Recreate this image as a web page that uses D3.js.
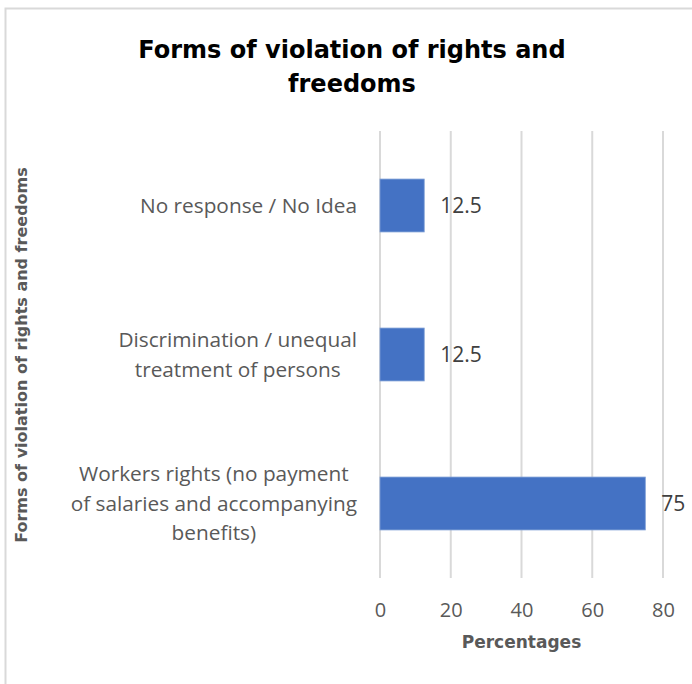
<!DOCTYPE html>
<html>
<head>
<meta charset="utf-8">
<script src="https://cdn.jsdelivr.net/npm/d3@7"></script>
<style>
  html, body { margin: 0; padding: 0; background: #fff; }
  svg { display: block; }
</style>
</head>
<body>
<svg id="chart" width="692" height="684"></svg>
<script>
// Categories, listed bottom to top as they appear on the axis
const categories = [
  ["Workers rights (no payment", "of salaries and accompanying", "benefits)"],
  ["Discrimination / unequal", "treatment of persons"],
  ["No response / No Idea"]
];
const values = [75, 12.5, 12.5];
const xTicks = [0, 20, 40, 60, 80];
const titleLines = ["Forms of violation of rights and", "freedoms"];
const xTitle = "Percentages";
const yTitle = "Forms of violation of rights and freedoms";

const svg = d3.select("#chart");
const W = 692, H = 684;
const margin = { top: 131, right: 29, bottom: 106, left: 380 };
const plotW = W - margin.left - margin.right;
const plotH = H - margin.top - margin.bottom;

const labelFont = "'Open Sans', sans-serif";
const titleFont = "'DejaVu Sans', sans-serif";
const gray = "#595959";

// chart frame
svg.append("rect")
  .attr("x", 5.5).attr("y", 8.5)
  .attr("width", W + 10).attr("height", H + 10)
  .attr("fill", "none").attr("stroke", "#d9d9d9").attr("stroke-width", 2);

const g = svg.append("g").attr("transform", `translate(${margin.left},${margin.top})`);

const x = d3.scaleLinear().domain([0, 80]).range([0, plotW]);
const keys = categories.map((d, i) => i);
const y = d3.scaleBand().domain(keys.slice().reverse()).range([0, plotH])
  .paddingInner(0.645).paddingOuter(0.3225);

// vertical gridlines
g.append("g")
  .selectAll("line").data(xTicks).join("line")
  .attr("x1", d => x(d)).attr("x2", d => x(d))
  .attr("y1", 0).attr("y2", plotH)
  .attr("stroke", "#d9d9d9").attr("stroke-width", 2);

// x axis tick labels
const xAxis = d3.axisBottom(x).tickValues(xTicks).tickSize(0).tickPadding(0);
const xg = g.append("g").attr("transform", `translate(0,${plotH})`).call(xAxis);
xg.select(".domain").remove();
xg.selectAll("text")
  .attr("y", 39).attr("dy", 0)
  .attr("font-family", labelFont).attr("font-size", 20).attr("fill", gray);

// bars
g.selectAll("rect.bar").data(keys).join("rect")
  .attr("class", "bar")
  .attr("x", x(0))
  .attr("y", i => y(i))
  .attr("width", i => x(values[i]) - x(0))
  .attr("height", y.bandwidth())
  .attr("fill", "#4472C4")
  .attr("stroke", "#7f9fd6").attr("stroke-width", 0.8);

// value labels
g.selectAll("text.val").data(keys).join("text")
  .attr("class", "val")
  .attr("x", i => x(values[i]) + 16)
  .attr("y", i => y(i) + y.bandwidth() / 2)
  .attr("dy", "0.35em")
  .attr("font-family", labelFont).attr("font-size", 21).attr("fill", "#404040")
  .text(i => values[i]);

// category labels: each block centred on itself, widest line ending near the axis
const lineH = 29.5;
const catG = g.append("g");
keys.forEach(i => {
  const lines = categories[i];
  const cy = y(i) + y.bandwidth() / 2;
  const t = catG.append("text")
    .attr("font-family", labelFont).attr("font-size", 20.8).attr("fill", gray)
    .attr("text-anchor", "middle");
  lines.forEach((ln, j) => {
    t.append("tspan").attr("x", 0)
      .attr("y", cy + (j - (lines.length - 1) / 2) * lineH)
      .attr("dy", "0.35em")
      .text(ln);
  });
  let maxW = 0;
  t.selectAll("tspan").each(function () { maxW = Math.max(maxW, this.getComputedTextLength()); });
  t.selectAll("tspan").attr("x", -23 - maxW / 2);
});

// axis titles
svg.append("text")
  .attr("x", margin.left + x(40)).attr("y", 648)
  .attr("text-anchor", "middle")
  .attr("font-family", titleFont).attr("font-weight", "bold").attr("font-size", 17)
  .attr("fill", gray).text(xTitle);

svg.append("text")
  .attr("transform", `translate(27,${355}) rotate(-90)`)
  .attr("text-anchor", "middle")
  .attr("font-family", titleFont).attr("font-weight", "bold").attr("font-size", 16)
  .attr("fill", gray).text(yTitle);

// chart title
const title = svg.append("text")
  .attr("text-anchor", "middle")
  .attr("font-family", titleFont).attr("font-weight", "bold").attr("font-size", 24)
  .attr("fill", "#000");
titleLines.forEach((ln, j) => {
  title.append("tspan").attr("x", 352).attr("y", 58 + j * 34).text(ln);
});
</script>
</body>
</html>
